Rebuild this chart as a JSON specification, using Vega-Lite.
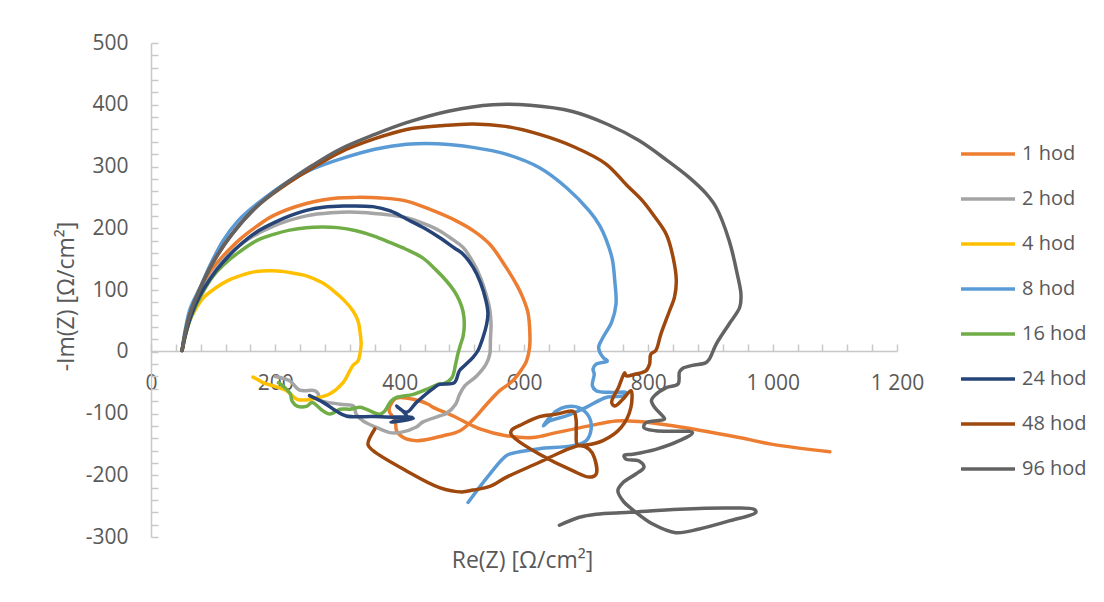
{
  "$schema": "https://vega.github.io/schema/vega-lite/v6.json",
  "autosize": {"type": "none"},
  "padding": {"left": 151, "top": 43, "right": 207, "bottom": 65},
  "width": 746,
  "height": 494,
  "background": "white",
  "config": {
    "view": {"stroke": null},
    "font": "Open Sans"
  },
  "data": {"values": [
    {"s":"1 hod","i":0,"re":50,"im":2},{"s":"1 hod","i":1,"re":55,"im":30},{"s":"1 hod","i":2,"re":63,"im":65},{"s":"1 hod","i":3,"re":78,"im":100},{"s":"1 hod","i":4,"re":95,"im":130},{"s":"1 hod","i":5,"re":116,"im":155},{"s":"1 hod","i":6,"re":143,"im":182},{"s":"1 hod","i":7,"re":170,"im":203},{"s":"1 hod","i":8,"re":196,"im":220},{"s":"1 hod","i":9,"re":250,"im":240},{"s":"1 hod","i":10,"re":300,"im":249},{"s":"1 hod","i":11,"re":330,"im":250},{"s":"1 hod","i":12,"re":370,"im":249},{"s":"1 hod","i":13,"re":411,"im":244},{"s":"1 hod","i":14,"re":450,"im":230},{"s":"1 hod","i":15,"re":491,"im":212},{"s":"1 hod","i":16,"re":520,"im":195},{"s":"1 hod","i":17,"re":545,"im":174},{"s":"1 hod","i":18,"re":571,"im":137},{"s":"1 hod","i":19,"re":590,"im":105},{"s":"1 hod","i":20,"re":598,"im":88},{"s":"1 hod","i":21,"re":606,"im":65},{"s":"1 hod","i":22,"re":609,"im":40},{"s":"1 hod","i":23,"re":609,"im":7},{"s":"1 hod","i":24,"re":604,"im":-15},{"s":"1 hod","i":25,"re":598,"im":-26},{"s":"1 hod","i":26,"re":582,"im":-47},{"s":"1 hod","i":27,"re":561,"im":-63},{"s":"1 hod","i":28,"re":540,"im":-85},{"s":"1 hod","i":29,"re":518,"im":-110},{"s":"1 hod","i":30,"re":497,"im":-128},{"s":"1 hod","i":31,"re":470,"im":-136},{"s":"1 hod","i":32,"re":428,"im":-144},{"s":"1 hod","i":33,"re":406,"im":-139},{"s":"1 hod","i":34,"re":395,"im":-128},{"s":"1 hod","i":35,"re":393,"im":-112},{"s":"1 hod","i":36,"re":383,"im":-95},{"s":"1 hod","i":37,"re":389,"im":-80},{"s":"1 hod","i":38,"re":395,"im":-75},{"s":"1 hod","i":39,"re":422,"im":-77},{"s":"1 hod","i":40,"re":446,"im":-85},{"s":"1 hod","i":41,"re":454,"im":-90},{"s":"1 hod","i":42,"re":486,"im":-104},{"s":"1 hod","i":43,"re":529,"im":-125},{"s":"1 hod","i":44,"re":571,"im":-136},{"s":"1 hod","i":45,"re":614,"im":-139},{"s":"1 hod","i":46,"re":652,"im":-131},{"s":"1 hod","i":47,"re":705,"im":-120},{"s":"1 hod","i":48,"re":748,"im":-112},{"s":"1 hod","i":49,"re":785,"im":-113},{"s":"1 hod","i":50,"re":839,"im":-120},{"s":"1 hod","i":51,"re":946,"im":-139},{"s":"1 hod","i":52,"re":1000,"im":-150},{"s":"1 hod","i":53,"re":1092,"im":-162},

    {"s":"2 hod","i":0,"re":50,"im":2},{"s":"2 hod","i":1,"re":56,"im":30},{"s":"2 hod","i":2,"re":65,"im":60},{"s":"2 hod","i":3,"re":78,"im":90},{"s":"2 hod","i":4,"re":95,"im":120},{"s":"2 hod","i":5,"re":116,"im":148},{"s":"2 hod","i":6,"re":150,"im":178},{"s":"2 hod","i":7,"re":196,"im":203},{"s":"2 hod","i":8,"re":250,"im":220},{"s":"2 hod","i":9,"re":290,"im":225},{"s":"2 hod","i":10,"re":330,"im":226},{"s":"2 hod","i":11,"re":370,"im":223},{"s":"2 hod","i":12,"re":411,"im":217},{"s":"2 hod","i":13,"re":440,"im":207},{"s":"2 hod","i":14,"re":464,"im":196},{"s":"2 hod","i":15,"re":485,"im":182},{"s":"2 hod","i":16,"re":502,"im":169},{"s":"2 hod","i":17,"re":518,"im":145},{"s":"2 hod","i":18,"re":530,"im":120},{"s":"2 hod","i":19,"re":539,"im":93},{"s":"2 hod","i":20,"re":545,"im":68},{"s":"2 hod","i":21,"re":547,"im":45},{"s":"2 hod","i":22,"re":546,"im":20},{"s":"2 hod","i":23,"re":545,"im":-4},{"s":"2 hod","i":24,"re":539,"im":-20},{"s":"2 hod","i":25,"re":523,"im":-40},{"s":"2 hod","i":26,"re":505,"im":-55},{"s":"2 hod","i":27,"re":496,"im":-70},{"s":"2 hod","i":28,"re":490,"im":-85},{"s":"2 hod","i":29,"re":475,"im":-100},{"s":"2 hod","i":30,"re":464,"im":-104},{"s":"2 hod","i":31,"re":437,"im":-114},{"s":"2 hod","i":32,"re":427,"im":-122},{"s":"2 hod","i":33,"re":400,"im":-131},{"s":"2 hod","i":34,"re":384,"im":-131},{"s":"2 hod","i":35,"re":368,"im":-125},{"s":"2 hod","i":36,"re":341,"im":-112},{"s":"2 hod","i":37,"re":330,"im":-101},{"s":"2 hod","i":38,"re":326,"im":-88},{"s":"2 hod","i":39,"re":304,"im":-85},{"s":"2 hod","i":40,"re":270,"im":-77},{"s":"2 hod","i":41,"re":269,"im":-68},{"s":"2 hod","i":42,"re":263,"im":-63},{"s":"2 hod","i":43,"re":239,"im":-62},{"s":"2 hod","i":44,"re":223,"im":-47},{"s":"2 hod","i":45,"re":200,"im":-40},

    {"s":"4 hod","i":0,"re":50,"im":2},{"s":"4 hod","i":1,"re":55,"im":25},{"s":"4 hod","i":2,"re":62,"im":50},{"s":"4 hod","i":3,"re":70,"im":66},{"s":"4 hod","i":4,"re":85,"im":88},{"s":"4 hod","i":5,"re":105,"im":104},{"s":"4 hod","i":6,"re":125,"im":116},{"s":"4 hod","i":7,"re":143,"im":123},{"s":"4 hod","i":8,"re":170,"im":130},{"s":"4 hod","i":9,"re":196,"im":131},{"s":"4 hod","i":10,"re":225,"im":128},{"s":"4 hod","i":11,"re":250,"im":123},{"s":"4 hod","i":12,"re":275,"im":112},{"s":"4 hod","i":13,"re":293,"im":99},{"s":"4 hod","i":14,"re":310,"im":84},{"s":"4 hod","i":15,"re":325,"im":66},{"s":"4 hod","i":16,"re":333,"im":50},{"s":"4 hod","i":17,"re":336,"im":34},{"s":"4 hod","i":18,"re":338,"im":12},{"s":"4 hod","i":19,"re":336,"im":-4},{"s":"4 hod","i":20,"re":333,"im":-15},{"s":"4 hod","i":21,"re":325,"im":-22},{"s":"4 hod","i":22,"re":309,"im":-50},{"s":"4 hod","i":23,"re":288,"im":-68},{"s":"4 hod","i":24,"re":266,"im":-75},{"s":"4 hod","i":25,"re":250,"im":-78},{"s":"4 hod","i":26,"re":235,"im":-77},{"s":"4 hod","i":27,"re":218,"im":-63},{"s":"4 hod","i":28,"re":196,"im":-55},{"s":"4 hod","i":29,"re":180,"im":-50},{"s":"4 hod","i":30,"re":170,"im":-44},{"s":"4 hod","i":31,"re":164,"im":-41},

    {"s":"8 hod","i":0,"re":50,"im":2},{"s":"8 hod","i":1,"re":55,"im":35},{"s":"8 hod","i":2,"re":63,"im":70},{"s":"8 hod","i":3,"re":79,"im":104},{"s":"8 hod","i":4,"re":95,"im":140},{"s":"8 hod","i":5,"re":116,"im":180},{"s":"8 hod","i":6,"re":140,"im":212},{"s":"8 hod","i":7,"re":170,"im":239},{"s":"8 hod","i":8,"re":223,"im":277},{"s":"8 hod","i":9,"re":260,"im":296},{"s":"8 hod","i":10,"re":304,"im":312},{"s":"8 hod","i":11,"re":360,"im":328},{"s":"8 hod","i":12,"re":411,"im":336},{"s":"8 hod","i":13,"re":460,"im":337},{"s":"8 hod","i":14,"re":518,"im":331},{"s":"8 hod","i":15,"re":571,"im":320},{"s":"8 hod","i":16,"re":625,"im":298},{"s":"8 hod","i":17,"re":668,"im":266},{"s":"8 hod","i":18,"re":705,"im":228},{"s":"8 hod","i":19,"re":722,"im":204},{"s":"8 hod","i":20,"re":732,"im":182},{"s":"8 hod","i":21,"re":742,"im":150},{"s":"8 hod","i":22,"re":746,"im":115},{"s":"8 hod","i":23,"re":748,"im":77},{"s":"8 hod","i":24,"re":741,"im":48},{"s":"8 hod","i":25,"re":727,"im":23},{"s":"8 hod","i":26,"re":720,"im":7},{"s":"8 hod","i":27,"re":727,"im":-9},{"s":"8 hod","i":28,"re":734,"im":-15},{"s":"8 hod","i":29,"re":716,"im":-20},{"s":"8 hod","i":30,"re":711,"im":-28},{"s":"8 hod","i":31,"re":713,"im":-36},{"s":"8 hod","i":32,"re":710,"im":-55},{"s":"8 hod","i":33,"re":716,"im":-63},{"s":"8 hod","i":34,"re":743,"im":-66},{"s":"8 hod","i":35,"re":764,"im":-66},{"s":"8 hod","i":36,"re":761,"im":-71},{"s":"8 hod","i":37,"re":732,"im":-74},{"s":"8 hod","i":38,"re":700,"im":-90},{"s":"8 hod","i":39,"re":668,"im":-104},{"s":"8 hod","i":40,"re":641,"im":-112},{"s":"8 hod","i":41,"re":631,"im":-120},{"s":"8 hod","i":42,"re":640,"im":-108},{"s":"8 hod","i":43,"re":652,"im":-96},{"s":"8 hod","i":44,"re":668,"im":-89},{"s":"8 hod","i":45,"re":689,"im":-91},{"s":"8 hod","i":46,"re":705,"im":-106},{"s":"8 hod","i":47,"re":708,"im":-125},{"s":"8 hod","i":48,"re":700,"im":-144},{"s":"8 hod","i":49,"re":679,"im":-152},{"s":"8 hod","i":50,"re":625,"im":-157},{"s":"8 hod","i":51,"re":588,"im":-163},{"s":"8 hod","i":52,"re":572,"im":-168},{"s":"8 hod","i":53,"re":545,"im":-198},{"s":"8 hod","i":54,"re":510,"im":-244},

    {"s":"16 hod","i":0,"re":50,"im":2},{"s":"16 hod","i":1,"re":56,"im":30},{"s":"16 hod","i":2,"re":66,"im":60},{"s":"16 hod","i":3,"re":80,"im":90},{"s":"16 hod","i":4,"re":98,"im":120},{"s":"16 hod","i":5,"re":116,"im":140},{"s":"16 hod","i":6,"re":140,"im":160},{"s":"16 hod","i":7,"re":170,"im":180},{"s":"16 hod","i":8,"re":200,"im":191},{"s":"16 hod","i":9,"re":223,"im":197},{"s":"16 hod","i":10,"re":250,"im":201},{"s":"16 hod","i":11,"re":277,"im":202},{"s":"16 hod","i":12,"re":300,"im":201},{"s":"16 hod","i":13,"re":330,"im":196},{"s":"16 hod","i":14,"re":360,"im":187},{"s":"16 hod","i":15,"re":384,"im":177},{"s":"16 hod","i":16,"re":410,"im":166},{"s":"16 hod","i":17,"re":437,"im":152},{"s":"16 hod","i":18,"re":458,"im":133},{"s":"16 hod","i":19,"re":475,"im":115},{"s":"16 hod","i":20,"re":488,"im":98},{"s":"16 hod","i":21,"re":496,"im":83},{"s":"16 hod","i":22,"re":502,"im":65},{"s":"16 hod","i":23,"re":504,"im":45},{"s":"16 hod","i":24,"re":502,"im":25},{"s":"16 hod","i":25,"re":498,"im":12},{"s":"16 hod","i":26,"re":494,"im":-2},{"s":"16 hod","i":27,"re":490,"im":-20},{"s":"16 hod","i":28,"re":484,"im":-42},{"s":"16 hod","i":29,"re":470,"im":-52},{"s":"16 hod","i":30,"re":464,"im":-52},{"s":"16 hod","i":31,"re":443,"im":-61},{"s":"16 hod","i":32,"re":422,"im":-69},{"s":"16 hod","i":33,"re":395,"im":-74},{"s":"16 hod","i":34,"re":386,"im":-80},{"s":"16 hod","i":35,"re":376,"im":-96},{"s":"16 hod","i":36,"re":368,"im":-101},{"s":"16 hod","i":37,"re":346,"im":-93},{"s":"16 hod","i":38,"re":336,"im":-90},{"s":"16 hod","i":39,"re":320,"im":-93},{"s":"16 hod","i":40,"re":304,"im":-93},{"s":"16 hod","i":41,"re":288,"im":-101},{"s":"16 hod","i":42,"re":277,"im":-96},{"s":"16 hod","i":43,"re":259,"im":-82},{"s":"16 hod","i":44,"re":251,"im":-88},{"s":"16 hod","i":45,"re":235,"im":-88},{"s":"16 hod","i":46,"re":227,"im":-80},{"s":"16 hod","i":47,"re":224,"im":-68},{"s":"16 hod","i":48,"re":213,"im":-56},{"s":"16 hod","i":49,"re":205,"im":-50},

    {"s":"24 hod","i":0,"re":50,"im":2},{"s":"24 hod","i":1,"re":56,"im":30},{"s":"24 hod","i":2,"re":65,"im":60},{"s":"24 hod","i":3,"re":78,"im":90},{"s":"24 hod","i":4,"re":95,"im":118},{"s":"24 hod","i":5,"re":116,"im":145},{"s":"24 hod","i":6,"re":140,"im":170},{"s":"24 hod","i":7,"re":170,"im":194},{"s":"24 hod","i":8,"re":200,"im":210},{"s":"24 hod","i":9,"re":223,"im":220},{"s":"24 hod","i":10,"re":250,"im":229},{"s":"24 hod","i":11,"re":277,"im":234},{"s":"24 hod","i":12,"re":310,"im":236},{"s":"24 hod","i":13,"re":357,"im":235},{"s":"24 hod","i":14,"re":385,"im":228},{"s":"24 hod","i":15,"re":411,"im":215},{"s":"24 hod","i":16,"re":440,"im":200},{"s":"24 hod","i":17,"re":464,"im":185},{"s":"24 hod","i":18,"re":488,"im":168},{"s":"24 hod","i":19,"re":502,"im":158},{"s":"24 hod","i":20,"re":518,"im":137},{"s":"24 hod","i":21,"re":530,"im":112},{"s":"24 hod","i":22,"re":539,"im":82},{"s":"24 hod","i":23,"re":542,"im":62},{"s":"24 hod","i":24,"re":540,"im":45},{"s":"24 hod","i":25,"re":534,"im":23},{"s":"24 hod","i":26,"re":526,"im":2},{"s":"24 hod","i":27,"re":518,"im":-9},{"s":"24 hod","i":28,"re":505,"im":-22},{"s":"24 hod","i":29,"re":496,"im":-31},{"s":"24 hod","i":30,"re":488,"im":-50},{"s":"24 hod","i":31,"re":464,"im":-53},{"s":"24 hod","i":32,"re":453,"im":-60},{"s":"24 hod","i":33,"re":427,"im":-82},{"s":"24 hod","i":34,"re":411,"im":-98},{"s":"24 hod","i":35,"re":395,"im":-88},{"s":"24 hod","i":36,"re":405,"im":-96},{"s":"24 hod","i":37,"re":411,"im":-104},{"s":"24 hod","i":38,"re":390,"im":-106},{"s":"24 hod","i":39,"re":422,"im":-108},{"s":"24 hod","i":40,"re":386,"im":-114},{"s":"24 hod","i":41,"re":405,"im":-110},{"s":"24 hod","i":42,"re":420,"im":-106},{"s":"24 hod","i":43,"re":390,"im":-106},{"s":"24 hod","i":44,"re":357,"im":-105},{"s":"24 hod","i":45,"re":314,"im":-104},{"s":"24 hod","i":46,"re":298,"im":-96},{"s":"24 hod","i":47,"re":277,"im":-82},{"s":"24 hod","i":48,"re":255,"im":-71},

    {"s":"48 hod","i":0,"re":50,"im":2},{"s":"48 hod","i":1,"re":56,"im":35},{"s":"48 hod","i":2,"re":64,"im":65},{"s":"48 hod","i":3,"re":78,"im":100},{"s":"48 hod","i":4,"re":100,"im":145},{"s":"48 hod","i":5,"re":130,"im":190},{"s":"48 hod","i":6,"re":170,"im":235},{"s":"48 hod","i":7,"re":213,"im":268},{"s":"48 hod","i":8,"re":260,"im":298},{"s":"48 hod","i":9,"re":304,"im":323},{"s":"48 hod","i":10,"re":360,"im":345},{"s":"48 hod","i":11,"re":411,"im":360},{"s":"48 hod","i":12,"re":465,"im":366},{"s":"48 hod","i":13,"re":518,"im":369},{"s":"48 hod","i":14,"re":570,"im":365},{"s":"48 hod","i":15,"re":625,"im":352},{"s":"48 hod","i":16,"re":680,"im":332},{"s":"48 hod","i":17,"re":732,"im":304},{"s":"48 hod","i":18,"re":765,"im":270},{"s":"48 hod","i":19,"re":790,"im":245},{"s":"48 hod","i":20,"re":807,"im":223},{"s":"48 hod","i":21,"re":829,"im":190},{"s":"48 hod","i":22,"re":840,"im":152},{"s":"48 hod","i":23,"re":845,"im":115},{"s":"48 hod","i":24,"re":842,"im":88},{"s":"48 hod","i":25,"re":834,"im":66},{"s":"48 hod","i":26,"re":820,"im":28},{"s":"48 hod","i":27,"re":812,"im":2},{"s":"48 hod","i":28,"re":804,"im":-4},{"s":"48 hod","i":29,"re":802,"im":-20},{"s":"48 hod","i":30,"re":796,"im":-31},{"s":"48 hod","i":31,"re":780,"im":-36},{"s":"48 hod","i":32,"re":764,"im":-39},{"s":"48 hod","i":33,"re":762,"im":-34},{"s":"48 hod","i":34,"re":752,"im":-58},{"s":"48 hod","i":35,"re":741,"im":-82},{"s":"48 hod","i":36,"re":746,"im":-88},{"s":"48 hod","i":37,"re":759,"im":-77},{"s":"48 hod","i":38,"re":772,"im":-63},{"s":"48 hod","i":39,"re":772,"im":-90},{"s":"48 hod","i":40,"re":756,"im":-123},{"s":"48 hod","i":41,"re":727,"im":-144},{"s":"48 hod","i":42,"re":700,"im":-151},{"s":"48 hod","i":43,"re":686,"im":-151},{"s":"48 hod","i":44,"re":684,"im":-130},{"s":"48 hod","i":45,"re":684,"im":-112},{"s":"48 hod","i":46,"re":681,"im":-98},{"s":"48 hod","i":47,"re":676,"im":-96},{"s":"48 hod","i":48,"re":652,"im":-101},{"s":"48 hod","i":49,"re":625,"im":-105},{"s":"48 hod","i":50,"re":598,"im":-117},{"s":"48 hod","i":51,"re":580,"im":-127},{"s":"48 hod","i":52,"re":579,"im":-133},{"s":"48 hod","i":53,"re":585,"im":-140},{"s":"48 hod","i":54,"re":625,"im":-166},{"s":"48 hod","i":55,"re":679,"im":-193},{"s":"48 hod","i":56,"re":705,"im":-203},{"s":"48 hod","i":57,"re":716,"im":-198},{"s":"48 hod","i":58,"re":713,"im":-171},{"s":"48 hod","i":59,"re":705,"im":-158},{"s":"48 hod","i":60,"re":690,"im":-152},{"s":"48 hod","i":61,"re":675,"im":-156},{"s":"48 hod","i":62,"re":652,"im":-166},{"s":"48 hod","i":63,"re":625,"im":-179},{"s":"48 hod","i":64,"re":572,"im":-203},{"s":"48 hod","i":65,"re":545,"im":-218},{"s":"48 hod","i":66,"re":518,"im":-224},{"s":"48 hod","i":67,"re":500,"im":-227},{"s":"48 hod","i":68,"re":464,"im":-220},{"s":"48 hod","i":69,"re":411,"im":-193},{"s":"48 hod","i":70,"re":357,"im":-160},{"s":"48 hod","i":71,"re":349,"im":-150},{"s":"48 hod","i":72,"re":360,"im":-125},

    {"s":"96 hod","i":0,"re":50,"im":2},{"s":"96 hod","i":1,"re":56,"im":35},{"s":"96 hod","i":2,"re":64,"im":65},{"s":"96 hod","i":3,"re":78,"im":100},{"s":"96 hod","i":4,"re":100,"im":145},{"s":"96 hod","i":5,"re":130,"im":190},{"s":"96 hod","i":6,"re":170,"im":235},{"s":"96 hod","i":7,"re":213,"im":270},{"s":"96 hod","i":8,"re":260,"im":302},{"s":"96 hod","i":9,"re":304,"im":328},{"s":"96 hod","i":10,"re":360,"im":352},{"s":"96 hod","i":11,"re":411,"im":371},{"s":"96 hod","i":12,"re":480,"im":390},{"s":"96 hod","i":13,"re":550,"im":400},{"s":"96 hod","i":14,"re":610,"im":399},{"s":"96 hod","i":15,"re":678,"im":389},{"s":"96 hod","i":16,"re":735,"im":368},{"s":"96 hod","i":17,"re":785,"im":342},{"s":"96 hod","i":18,"re":830,"im":310},{"s":"96 hod","i":19,"re":866,"im":282},{"s":"96 hod","i":20,"re":893,"im":256},{"s":"96 hod","i":21,"re":909,"im":234},{"s":"96 hod","i":22,"re":930,"im":180},{"s":"96 hod","i":23,"re":943,"im":126},{"s":"96 hod","i":24,"re":949,"im":93},{"s":"96 hod","i":25,"re":947,"im":72},{"s":"96 hod","i":26,"re":930,"im":45},{"s":"96 hod","i":27,"re":909,"im":12},{"s":"96 hod","i":28,"re":898,"im":-12},{"s":"96 hod","i":29,"re":892,"im":-18},{"s":"96 hod","i":30,"re":871,"im":-22},{"s":"96 hod","i":31,"re":855,"im":-27},{"s":"96 hod","i":32,"re":850,"im":-33},{"s":"96 hod","i":33,"re":848,"im":-52},{"s":"96 hod","i":34,"re":829,"im":-58},{"s":"96 hod","i":35,"re":810,"im":-71},{"s":"96 hod","i":36,"re":805,"im":-79},{"s":"96 hod","i":37,"re":810,"im":-90},{"s":"96 hod","i":38,"re":823,"im":-104},{"s":"96 hod","i":39,"re":826,"im":-109},{"s":"96 hod","i":40,"re":796,"im":-115},{"s":"96 hod","i":41,"re":793,"im":-123},{"s":"96 hod","i":42,"re":812,"im":-128},{"s":"96 hod","i":43,"re":871,"im":-131},{"s":"96 hod","i":44,"re":850,"im":-144},{"s":"96 hod","i":45,"re":812,"im":-158},{"s":"96 hod","i":46,"re":775,"im":-166},{"s":"96 hod","i":47,"re":761,"im":-168},{"s":"96 hod","i":48,"re":764,"im":-174},{"s":"96 hod","i":49,"re":785,"im":-177},{"s":"96 hod","i":50,"re":793,"im":-187},{"s":"96 hod","i":51,"re":780,"im":-198},{"s":"96 hod","i":52,"re":759,"im":-212},{"s":"96 hod","i":53,"re":751,"im":-225},{"s":"96 hod","i":54,"re":759,"im":-241},{"s":"96 hod","i":55,"re":780,"im":-260},{"s":"96 hod","i":56,"re":807,"im":-279},{"s":"96 hod","i":57,"re":844,"im":-293},{"s":"96 hod","i":58,"re":882,"im":-287},{"s":"96 hod","i":59,"re":930,"im":-274},{"s":"96 hod","i":60,"re":973,"im":-260},{"s":"96 hod","i":61,"re":970,"im":-255},{"s":"96 hod","i":62,"re":930,"im":-253},{"s":"96 hod","i":63,"re":850,"im":-255},{"s":"96 hod","i":64,"re":769,"im":-260},{"s":"96 hod","i":65,"re":716,"im":-263},{"s":"96 hod","i":66,"re":689,"im":-268},{"s":"96 hod","i":67,"re":657,"im":-281}
  ]},
  "mark": {"type": "line", "interpolate": "catmull-rom", "strokeWidth": 3.5, "clip": true, "strokeCap": "round", "strokeJoin": "round"},
  "encoding": {
    "x": {
      "field": "re", "type": "quantitative",
      "scale": {"domain": [0, 1200], "nice": false, "zero": false},
      "axis": {
        "values": [0,40,80,120,160,200,240,280,320,360,400,440,480,520,560,600,640,680,720,760,800,840,880,920,960,1000,1040,1080,1120,1160,1200],
        "labelExpr": "datum.value % 200 == 0 ? (datum.value >= 1000 ? '1 ' + substring('' + datum.value, 1) : '' + datum.value) : ''",
        "offset": -186,
        "grid": false,
        "domainColor": "#C8C8C8", "domainWidth": 1.5,
        "tickColor": "#C8C8C8", "tickWidth": 1.5, "tickSize": -7,
        "labelFont": "Open Sans", "labelFontSize": 21, "labelColor": "#595959",
        "labelPadding": 28, "labelFlush": false, "labelOverlap": false, "labelBaseline": "top",
        "title": "Re(Z) [Ω/cm²]",
        "titleFont": "Open Sans", "titleFontSize": 23, "titleFontWeight": "normal", "titleColor": "#595959",
        "titleX": 371, "titleY": 209, "titleBaseline": "middle", "titleAlign": "center"
      }
    },
    "y": {
      "field": "im", "type": "quantitative",
      "scale": {"domain": [-300, 500], "nice": false, "zero": false},
      "axis": {
        "values": [-300,-280,-260,-240,-220,-200,-180,-160,-140,-120,-100,-80,-60,-40,-20,0,20,40,60,80,100,120,140,160,180,200,220,240,260,280,300,320,340,360,380,400,420,440,460,480,500],
        "labelExpr": "datum.value % 100 == 0 ? '' + datum.value : ''",
        "grid": false,
        "domainColor": "#C8C8C8", "domainWidth": 1.5,
        "tickColor": "#C8C8C8", "tickWidth": 1.5, "tickSize": -7,
        "labelFont": "Open Sans", "labelFontSize": 21, "labelColor": "#595959",
        "labelPadding": 30, "labelOverlap": false, "labelFlush": false, "labelBaseline": "middle",
        "title": "-Im(Z) [Ω/cm²]",
        "titleFont": "Open Sans", "titleFontSize": 23, "titleFontWeight": "normal", "titleColor": "#595959",
        "titleX": -85, "titleY": 253, "titleBaseline": "middle", "titleAlign": "center", "titleAngle": -90
      }
    },
    "color": {
      "field": "s", "type": "nominal",
      "scale": {
        "domain": ["1 hod","2 hod","4 hod","8 hod","16 hod","24 hod","48 hod","96 hod"],
        "range": ["#ED7D31","#A5A5A5","#FFC000","#5B9BD5","#70AD47","#264478","#9E480E","#636363"]
      },
      "legend": {
        "title": null,
        "orient": "none",
        "legendX": 808,
        "legendY": 82,
        "padding": 0,
        "symbolType": "stroke",
        "symbolSize": 2916,
        "symbolStrokeWidth": 3.5,
        "labelFont": "Open Sans", "labelFontSize": 20, "labelColor": "#595959",
        "labelOffset": 5,
        "rowPadding": 6
      }
    },
    "order": {"field": "i", "type": "quantitative"}
  }
}
